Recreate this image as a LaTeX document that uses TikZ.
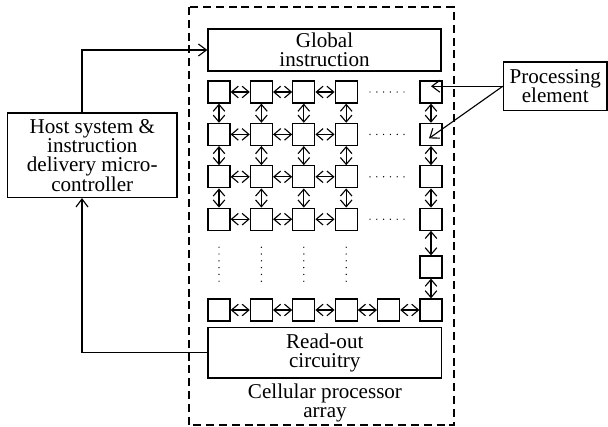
\documentclass[tikz,border=0pt]{standalone}
\usepackage{fontspec}
\setmainfont{Liberation Serif}
\usetikzlibrary{arrows.meta}

\tikzset{
    box/.style={draw, line width=0.9pt, align=center, inner sep=0pt, font=\fontsize{15pt}{13.8pt}\selectfont},
    cell/.style={draw, line width=0.9pt, minimum size=0.55cm, inner sep=0pt},
    dbl/.style={{Straight Barb[length=0.17cm,width=0.29cm]}-{Straight Barb[length=0.17cm,width=0.29cm]}, line width=0.8pt},
    ptr/.style={-{Straight Barb[length=0.2cm,width=0.3cm]}, line width=0.8pt},
    dotrow/.style={line width=1pt, line cap=round, dash pattern=on 0pt off 0.17cm},
    frame/.style={line width=0.8pt, dash pattern=on 0.2cm off 0.12cm},
}

\begin{document}
\begin{tikzpicture}
    \useasboundingbox (0,0) rectangle (15.2,-10.675);

    % outer array boundary
    \draw [frame] (4.725,-0.175) rectangle (11.35,-10.625);

    \node [box, minimum width=4.24cm, minimum height=2.11cm] (host) at (2.306,-3.881) {Host system \&\\instruction\\delivery micro-\\controller};
    \node [box, minimum width=5.825cm, minimum height=1.05cm] (global) at (8.1125,-1.25) {Global\\instruction};
    \node [box, minimum width=5.84cm, minimum height=1.26cm] (readout) at (8.119,-8.819) {Read-out\\circuitry};
    \node [box, minimum width=2.59cm, minimum height=1.21cm] (procelem) at (13.881,-2.156) {Processing\\element};
    \node [box, draw=none] (arraylabel) at (8.125,-10.075) {Cellular processor\\array};

    % processing elements
    \node [cell] (pe11) at (5.475,-2.3) {};
    \node [cell] (pe12) at (6.535,-2.3) {};
    \node [cell] (pe13) at (7.595,-2.3) {};
    \node [cell] (pe14) at (8.655,-2.3) {};
    \node [cell] (pe16) at (10.775,-2.3) {};

    \node [cell] (pe21) at (5.475,-3.36) {};
    \node [cell] (pe22) at (6.535,-3.36) {};
    \node [cell] (pe23) at (7.595,-3.36) {};
    \node [cell] (pe24) at (8.655,-3.36) {};
    \node [cell] (pe26) at (10.775,-3.36) {};

    \node [cell] (pe31) at (5.475,-4.42) {};
    \node [cell] (pe32) at (6.535,-4.42) {};
    \node [cell] (pe33) at (7.595,-4.42) {};
    \node [cell] (pe34) at (8.655,-4.42) {};
    \node [cell] (pe36) at (10.775,-4.42) {};

    \node [cell] (pe41) at (5.475,-5.48) {};
    \node [cell] (pe42) at (6.535,-5.48) {};
    \node [cell] (pe43) at (7.595,-5.48) {};
    \node [cell] (pe44) at (8.655,-5.48) {};
    \node [cell] (pe46) at (10.775,-5.48) {};

    \node [cell] (pe56) at (10.775,-6.675) {};

    \node [cell] (pe61) at (5.475,-7.75) {};
    \node [cell] (pe62) at (6.535,-7.75) {};
    \node [cell] (pe63) at (7.595,-7.75) {};
    \node [cell] (pe64) at (8.655,-7.75) {};
    \node [cell] (pe65) at (9.715,-7.75) {};
    \node [cell] (pe66) at (10.775,-7.75) {};

    % horizontal links
    \draw [dbl] (pe11) -- (pe12);
    \draw [dbl] (pe12) -- (pe13);
    \draw [dbl] (pe13) -- (pe14);
    \draw [dbl] (pe21) -- (pe22);
    \draw [dbl] (pe22) -- (pe23);
    \draw [dbl] (pe23) -- (pe24);
    \draw [dbl] (pe31) -- (pe32);
    \draw [dbl] (pe32) -- (pe33);
    \draw [dbl] (pe33) -- (pe34);
    \draw [dbl] (pe41) -- (pe42);
    \draw [dbl] (pe42) -- (pe43);
    \draw [dbl] (pe43) -- (pe44);
    \draw [dbl] (pe61) -- (pe62);
    \draw [dbl] (pe62) -- (pe63);
    \draw [dbl] (pe63) -- (pe64);
    \draw [dbl] (pe64) -- (pe65);
    \draw [dbl] (pe65) -- (pe66);

    % vertical links
    \draw [dbl] (pe11) -- (pe21);
    \draw [dbl] (pe21) -- (pe31);
    \draw [dbl] (pe31) -- (pe41);
    \draw [dbl] (pe12) -- (pe22);
    \draw [dbl] (pe22) -- (pe32);
    \draw [dbl] (pe32) -- (pe42);
    \draw [dbl] (pe13) -- (pe23);
    \draw [dbl] (pe23) -- (pe33);
    \draw [dbl] (pe33) -- (pe43);
    \draw [dbl] (pe14) -- (pe24);
    \draw [dbl] (pe24) -- (pe34);
    \draw [dbl] (pe34) -- (pe44);
    \draw [dbl] (pe16) -- (pe26);
    \draw [dbl] (pe26) -- (pe36);
    \draw [dbl] (pe36) -- (pe46);
    \draw [dbl] (pe46) -- (pe56);
    \draw [dbl] (pe56) -- (pe66);

    % dots
    \draw [dotrow] (9.25,-2.3) -- (10.1,-2.3);
    \draw [dotrow] (9.25,-3.36) -- (10.1,-3.36);
    \draw [dotrow] (9.25,-4.42) -- (10.1,-4.42);
    \draw [dotrow] (9.25,-5.48) -- (10.1,-5.48);
    \draw [dotrow] (5.475,-6.18) -- (5.475,-7.03);
    \draw [dotrow] (6.535,-6.18) -- (6.535,-7.03);
    \draw [dotrow] (7.595,-6.18) -- (7.595,-7.03);
    \draw [dotrow] (8.655,-6.18) -- (8.655,-7.03);

    % host links
    \draw [ptr] ([xshift=-0.256cm]host.north) |- (global.west);
    \draw [ptr] (readout.west) -| ([xshift=-0.256cm]host.south);

    % labels to processing elements
    \draw [ptr] (procelem.west) -- (procelem.west -| pe16.center);
    \draw [ptr] (procelem.west) -- ([shift={(-0.05,-0.1)}]pe26.center);

\end{tikzpicture}
\end{document}
